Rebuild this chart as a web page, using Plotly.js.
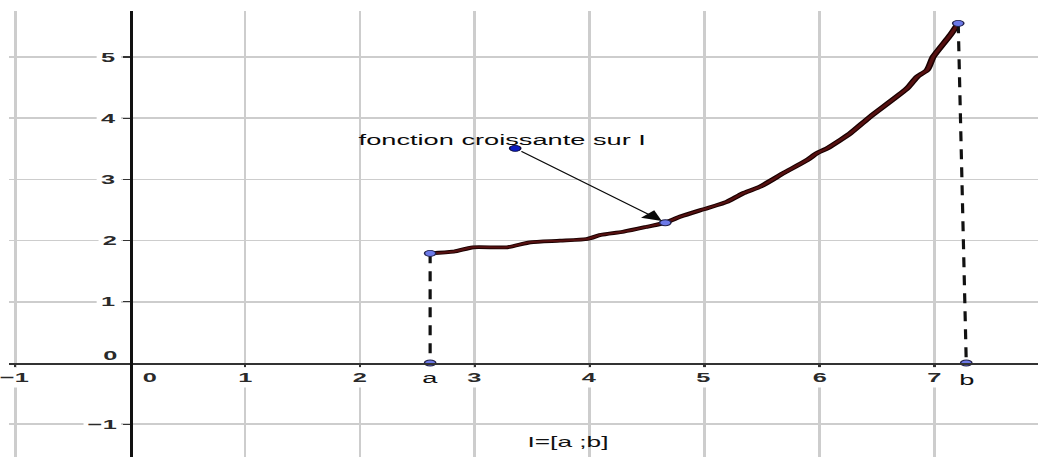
<!DOCTYPE html>
<html>
<head>
<meta charset="utf-8">
<script src="https://cdn.plot.ly/plotly-3.0.1.min.js"></script>
<style>
  html, body { margin: 0; padding: 0; background: #ffffff; overflow: hidden; }
  /* the figure is laid out at equal axis scale, then widened to the window */
  #chart { width: 553px; height: 457px; transform: scaleX(1.877); transform-origin: 0 0; }
</style>
</head>
<body>
<div id="chart"></div>
<script>
// increasing function traced on I = [a ; b]
const curveX = [2.611, 2.811, 2.985, 3.281, 3.481, 3.742, 3.977, 4.090, 4.291, 4.500,
                4.657, 4.787, 4.987, 5.196, 5.335, 5.483, 5.683, 5.892, 5.979, 6.066,
                6.266, 6.440, 6.762, 6.849, 6.936, 6.989, 7.137, 7.206];
const curveY = [1.792, 1.819, 1.891, 1.891, 1.972, 1.998, 2.026, 2.092, 2.145, 2.227,
                2.292, 2.391, 2.511, 2.636, 2.773, 2.881, 3.100, 3.317, 3.431, 3.508,
                3.753, 4.025, 4.489, 4.678, 4.788, 5.005, 5.359, 5.551];

// bounds of the interval: top point on the curve, foot point on the x-axis
const aTop = [2.611, 1.792];
const aFoot = [2.611, 0];
const bTop = [7.206, 5.551];
const bFoot = [7.276, 0];

// caption point and the curve point its arrow designates
const captionPoint = [3.351, 3.508];
const arrowTarget = [4.657, 2.292];

// grid ticks and labels
const xTicks = [-1, 0, 1, 2, 3, 4, 5, 6, 7];
const xTickLabels = ['\u22121', '0', '1', '2', '3', '4', '5', '6', '7'];
const yTicks = [-1, 1, 2, 3, 4, 5];
const yTickLabels = ['\u22121', '1', '2', '3', '4', '5'];

const captionText = 'fonction croissante sur I';
const intervalText = 'I=[a ;b]';

const xRange = [-1.05, 7.90];
const yRange = [-1.536, 5.752];

const font = 'Liberation Sans, Arial, sans-serif';
const tickFont = { family: font, size: 13.5, color: '#2a2a2a', weight: 'bold' };
const pointFill = '#6c79e8';
const pointEdge = '#22224a';

const traces = [
  { x: curveX, y: curveY, mode: 'lines', line: { color: '#1a0000', width: 3.8, shape: 'spline', smoothing: 0.6 }, hoverinfo: 'skip' },
  { x: curveX, y: curveY, mode: 'lines', line: { color: '#561010', width: 2.0, shape: 'spline', smoothing: 0.6 }, hoverinfo: 'skip' },
  { x: [aTop[0], aFoot[0]], y: [aTop[1], aFoot[1]], mode: 'lines',
    line: { color: '#111111', width: 1.7, dash: '10px,8px' }, hoverinfo: 'skip' },
  { x: [bTop[0], bFoot[0]], y: [bTop[1], bFoot[1]], mode: 'lines',
    line: { color: '#111111', width: 1.7, dash: '10px,8px' }, hoverinfo: 'skip' },
  { x: [aTop[0], aFoot[0], bTop[0], bFoot[0], arrowTarget[0]],
    y: [aTop[1], aFoot[1], bTop[1], bFoot[1], arrowTarget[1]],
    mode: 'markers', marker: { size: 6, color: pointFill, line: { color: pointEdge, width: 0.8 } },
    hoverinfo: 'skip' },
  { x: [captionPoint[0]], y: [captionPoint[1]], mode: 'markers',
    marker: { size: 6, color: '#0b1cc0', line: { color: '#0a0a40', width: 0.8 } }, hoverinfo: 'skip' }
];

const annotations = [];

// x-axis numbers, on a white patch that interrupts the grid
xTicks.forEach((v, i) => {
  annotations.push({
    x: v, y: 0, xref: 'x', yref: 'y', text: xTickLabels[i], showarrow: false,
    xanchor: 'center', yanchor: 'middle', xshift: v === 0 ? 10.5 : 0, yshift: -14,
    bgcolor: '#ffffff', borderpad: 2, font: tickFont
  });
});

// y-axis numbers, left of the axis
yTicks.forEach((v, i) => {
  annotations.push({
    x: 0, y: v, xref: 'x', yref: 'y', text: yTickLabels[i], showarrow: false,
    xanchor: 'right', yanchor: 'middle', xshift: -4, yshift: 0,
    bgcolor: '#ffffff', borderpad: 1.8, font: tickFont
  });
});

// origin label of the y-axis, sitting just above the x-axis
annotations.push({
  x: 0, y: 0, xref: 'x', yref: 'y', text: '0', showarrow: false,
  xanchor: 'right', yanchor: 'middle', xshift: -4.5, yshift: 8, font: tickFont
});

// names of the interval bounds
annotations.push({
  x: aFoot[0], y: aFoot[1], xref: 'x', yref: 'y', text: 'a', showarrow: false,
  xanchor: 'center', yanchor: 'middle', yshift: -15,
  font: { family: font, size: 14.5, color: '#111111' }
});
annotations.push({
  x: bFoot[0], y: bFoot[1], xref: 'x', yref: 'y', text: 'b', showarrow: false,
  xanchor: 'center', yanchor: 'middle', yshift: -17,
  font: { family: font, size: 14.5, color: '#111111' }
});

// interval caption
annotations.push({
  x: 3.81, y: -1.29, xref: 'x', yref: 'y', text: intervalText, showarrow: false,
  xanchor: 'center', yanchor: 'middle',
  font: { family: font, size: 14, color: '#111111' }
});

// function caption and its arrow
annotations.push({
  x: 1.958, y: 3.65, xref: 'x', yref: 'y', text: captionText, showarrow: false,
  xanchor: 'left', yanchor: 'middle',
  font: { family: font, size: 14.5, color: '#0a0a0a' }
});
annotations.push({
  x: arrowTarget[0], y: arrowTarget[1], ax: captionPoint[0], ay: captionPoint[1],
  xref: 'x', yref: 'y', axref: 'x', ayref: 'y', text: '', showarrow: true,
  arrowhead: 2, arrowsize: 2.3, arrowwidth: 0.9, arrowcolor: '#0a0a0a',
  standoff: 2.5, startstandoff: 2.5
});

const xTickMarks = xTicks.filter(v => v !== 0);
const yTickMarks = yTicks;

const layout = {
  width: 553, height: 457,
  margin: { l: 5, r: 0, t: 11, b: 0, pad: 0 },
  paper_bgcolor: '#ffffff', plot_bgcolor: '#ffffff',
  showlegend: false,
  xaxis: {
    range: xRange, anchor: 'free',
    position: (0 - yRange[0]) / (yRange[1] - yRange[0]),
    tickvals: xTickMarks, showticklabels: false,
    ticks: 'outside', ticklen: 2, tickwidth: 1.3, tickcolor: '#333333',
    showgrid: true, gridcolor: '#cdcdcd', gridwidth: 1.5,
    zeroline: false, showline: true, linecolor: '#333333', linewidth: 1.5,
    fixedrange: true
  },
  yaxis: {
    range: yRange, anchor: 'free',
    position: (0 - xRange[0]) / (xRange[1] - xRange[0]),
    tickvals: yTickMarks, showticklabels: false,
    ticks: 'outside', ticklen: 4, tickwidth: 1.3, tickcolor: '#333333',
    showgrid: true, gridcolor: '#cdcdcd', gridwidth: 1.5,
    zeroline: false, showline: true, linecolor: '#111111', linewidth: 1.5,
    fixedrange: true
  },
  annotations: annotations
};

Plotly.newPlot('chart', traces, layout, { displayModeBar: false, staticPlot: true });
</script>
</body>
</html>
